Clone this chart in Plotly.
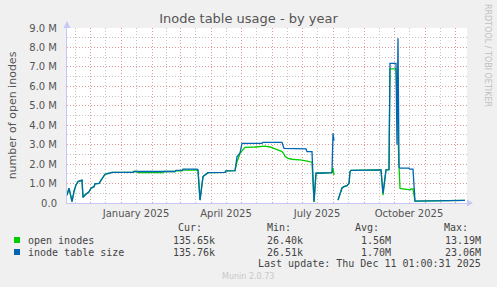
import plotly.graph_objects as go

# ---------------- data (values in millions) ----------------
dates = [
    "2024-11-08", "2024-11-10", "2024-11-11", "2024-11-13", "2024-11-15", "2024-11-17",
    "2024-11-19", "2024-11-22", "2024-11-23", "2024-11-24", "2024-11-26", "2024-11-30",
    "2024-12-02", "2024-12-05", "2024-12-06", "2024-12-10", "2024-12-12", "2024-12-14",
    "2024-12-16", "2024-12-20", "2024-12-23", "2025-01-13", "2025-01-14", "2025-01-17",
    "2025-01-18", "2025-02-12", "2025-02-13", "2025-02-24", "2025-02-25", "2025-03-03",
    "2025-03-04", "2025-03-18", "2025-03-19", "2025-03-21", "2025-03-24", "2025-03-26",
    "2025-03-29", "2025-04-15", "2025-04-16", "2025-04-25", "2025-04-27", "2025-04-30",
    "2025-05-02", "2025-05-03", "2025-05-05", "2025-05-15", "2025-05-22", "2025-05-23",
    "2025-05-25", "2025-05-30", "2025-06-06", "2025-06-11", "2025-06-13", "2025-06-14",
    "2025-06-17", "2025-06-21", "2025-06-28", "2025-06-29", "2025-07-05", "2025-07-06",
    "2025-07-11", "2025-07-13", "2025-07-15", "2025-07-31", "2025-08-01", "2025-08-02",
    "2025-08-03", "2025-08-06", "2025-08-10", "2025-08-12", "2025-08-15", "2025-08-17",
    "2025-08-18", "2025-08-19", "2025-09-18", "2025-09-20", "2025-09-22", "2025-09-23",
    "2025-09-26", "2025-09-27", "2025-10-03", "2025-10-04", "2025-10-05", "2025-10-06",
    "2025-10-07", "2025-10-16", "2025-10-17", "2025-10-18", "2025-10-20", "2025-10-22",
    "2025-11-11", "2025-11-12", "2025-12-11",
]
inode_table_size = [
    0.40, 0.76, 0.55, 0.07, 0.60, 0.93,
    1.10, 1.15, 1.17, 0.29, 0.41, 0.58,
    0.76, 0.84, 0.98, 1.01, 1.15, 1.35,
    1.48, 1.53, 1.58, 1.58, 1.62, 1.62,
    1.62, 1.62, 1.62, 1.62, 1.68, 1.68,
    1.74, 1.74, 1.70, 0.15, 1.36, 1.44,
    1.56, 1.57, 1.65, 1.66, 2.38, 2.57,
    3.07, 3.07, 3.07, 3.07, 3.07, 3.12,
    3.12, 3.12, 3.12, 3.12, 2.81, 2.81,
    2.81, 2.81, 2.81, 2.78, 2.78, 2.64,
    2.64, 0.07, 1.53, 1.56, 3.58, 3.20,
    None, 0.15, 0.77, 0.84, 0.89, 1.00,
    1.61, 1.68, 1.70, 0.50, 1.55, 1.70,
    1.72, 7.18, 7.18, 3.00, 8.47, 1.85,
    1.79, 1.79, 1.74, 1.74, 1.74, 0.10,
    0.10, 0.136, 0.136,
]
open_inodes = [
    0.40, 0.76, 0.55, 0.07, 0.60, 0.93,
    1.10, 1.15, 1.17, 0.29, 0.41, 0.58,
    0.76, 0.84, 0.98, 1.01, 1.15, 1.35,
    1.48, 1.53, 1.58, 1.58, 1.62, 1.62,
    1.56, 1.56, 1.62, 1.62, 1.65, 1.65,
    1.69, 1.69, 1.68, 0.15, 1.36, 1.44,
    1.56, 1.57, 1.65, 1.66, 2.12, 2.55,
    2.70, 2.76, 2.86, 2.88, 2.91, 2.91,
    2.92, 2.88, 2.76, 2.64, 2.52, 2.40,
    2.30, 2.25, 2.22, 2.22, 2.17, 2.16,
    2.10, 0.05, 1.53, 1.56, 1.80, 1.44,
    None, 0.15, 0.77, 0.84, 0.89, 1.00,
    1.61, 1.68, 1.70, 0.40, 1.55, 1.70,
    1.72, 6.90, 6.90, 5.00, 3.50, 1.90,
    0.75, 0.68, 0.68, 0.72, 0.72, 0.10,
    0.10, 0.136, 0.136,
]

series_names = ["open inodes", "inode table size"]
series_colors = ["#00cc00", "#0066b3"]
stat_headers = ["Cur:", "Min:", "Avg:", "Max:"]
stats = [
    ["135.65k", "26.40k", "1.56M", "13.19M"],
    ["135.76k", "26.51k", "1.70M", "23.06M"],
]

y_ticks = [0, 1, 2, 3, 4, 5, 6, 7, 8, 9]
y_ticktext = ["0.0", "1.0 M", "2.0 M", "3.0 M", "4.0 M", "5.0 M", "6.0 M", "7.0 M", "8.0 M", "9.0 M"]
y_minor = [0.5, 1.5, 2.5, 3.5, 4.5, 5.5, 6.5, 7.5, 8.5]

month_starts = ["2024-12-01", "2025-01-01", "2025-02-01", "2025-03-01", "2025-04-01",
                "2025-05-01", "2025-06-01", "2025-07-01", "2025-08-01", "2025-09-01",
                "2025-10-01", "2025-11-01", "2025-12-01"]
mid_months = ["2024-11-16", "2024-12-16", "2025-01-16", "2025-02-15", "2025-03-16",
              "2025-04-16", "2025-05-16", "2025-06-16", "2025-07-16", "2025-08-16",
              "2025-09-16", "2025-10-16", "2025-11-16"]
x_label_pos = ["2025-01-16", "2025-04-16", "2025-07-16", "2025-10-16"]
x_label_text = ["January 2025", "April 2025", "July 2025", "October 2025"]
x_range = ["2024-11-08", "2025-12-13"]

# ---------------- figure ----------------
W, H = 497, 287
L, R, T, B = 67, 30, 28, 84
PW, PH = W - L - R, H - T - B

def px(x):
    return (x - L) / PW

def py(y):
    return (H - B - y) / PH

fig = go.Figure()
fig.add_trace(go.Scatter(x=dates, y=open_inodes, mode="lines",
                         line=dict(color=series_colors[0], width=1.3),
                         connectgaps=False, hoverinfo="skip", showlegend=False))
fig.add_trace(go.Scatter(x=dates, y=inode_table_size, mode="lines",
                         line=dict(color=series_colors[1], width=1.3),
                         connectgaps=False, hoverinfo="skip", showlegend=False))
# invisible trace to carry the label axis
fig.add_trace(go.Scatter(x=[dates[0]], y=[0], xaxis="x2", mode="markers",
                         marker=dict(opacity=0), hoverinfo="skip", showlegend=False))

tickfont = dict(family="DejaVu Sans", size=10, color="#555555")
RED = "#e29a9a"
GRAY = "#c4c4c4"
DOTS = "1px,2px"

fig.update_layout(
    width=W, height=H,
    margin=dict(l=L, r=R, t=T, b=B, pad=0),
    paper_bgcolor="#f0f0f0",
    plot_bgcolor="#ffffff",
    title=dict(text="Inode table usage - by year", x=(248.5) / W, xanchor="center",
               y=1 - 18 / H, yanchor="middle",
               font=dict(family="DejaVu Sans", size=13, color="#555555")),
    xaxis=dict(type="date", range=x_range, tickmode="array", tickvals=month_starts,
               ticktext=[""] * len(month_starts), showgrid=True,
               gridcolor=RED, griddash=DOTS, gridwidth=1,
               minor=dict(tickmode="array", tickvals=mid_months, showgrid=True,
                          gridcolor=GRAY, griddash=DOTS, gridwidth=1),
               showline=True, linecolor="#c8c8f4", linewidth=1,
               zeroline=False, ticks="", fixedrange=True),
    xaxis2=dict(type="date", range=x_range, overlaying="x", anchor="y", side="bottom",
                tickmode="array", tickvals=x_label_pos, ticktext=x_label_text,
                showgrid=False, showline=False, zeroline=False, ticks="",
                tickfont=tickfont, ticklabelstandoff=3),
    yaxis=dict(range=[0, 9], tickmode="array", tickvals=y_ticks, ticktext=y_ticktext,
               showgrid=True, gridcolor=RED, griddash=DOTS, gridwidth=1,
               minor=dict(tickmode="array", tickvals=y_minor, showgrid=True,
                          gridcolor=GRAY, griddash=DOTS, gridwidth=1),
               showline=True, linecolor="#c8c8f4", linewidth=1,
               zeroline=False, ticks="", tickfont=tickfont, ticklabelstandoff=7,
               title=dict(text="number of open inodes", standoff=10,
                          font=dict(family="DejaVu Sans", size=11, color="#555555"))),
)

# axis arrows
fig.add_shape(type="path", xref="paper", yref="paper",
              path=f"M {px(467)} {py(199.5)} L {px(473)} {py(203)} L {px(467)} {py(206.5)} Z",
              fillcolor="#c8c8f4", line=dict(width=0))
fig.add_shape(type="path", xref="paper", yref="paper",
              path=f"M {px(63.5)} {py(28)} L {px(67)} {py(21)} L {px(70.5)} {py(28)} Z",
              fillcolor="#c8c8f4", line=dict(width=0))

mono = dict(family="DejaVu Sans Mono", size=10, color="#444444")

def ann(text, x, y, xanchor="left", font=mono, **kw):
    fig.add_annotation(text=text, xref="paper", yref="paper", x=px(x), y=py(y),
                       xanchor=xanchor, yanchor="middle", showarrow=False, font=font, **kw)

# legend / stats
header_right = [204, 293, 381, 470]
for h, xr in zip(stat_headers, header_right):
    ann(h, xr, 227, xanchor="right")
row_y = [240, 252]
for name, col, vals, yy in zip(series_names, series_colors, stats, row_y):
    fig.add_shape(type="rect", xref="paper", yref="paper",
                  x0=px(14), x1=px(20), y0=py(yy - 3), y1=py(yy + 3),
                  fillcolor=col, line=dict(width=0))
    ann(name, 26, yy)
    for v, xr in zip(vals, [217, 305, 393, 483]):
        ann(v, xr, yy, xanchor="right")
ann("Last update: Thu Dec 11 01:00:31 2025", 483, 263, xanchor="right")
ann("Munin 2.0.73", 248, 276, xanchor="center",
    font=dict(family="DejaVu Sans", size=8, color="#c8c8c8"))
ann("RRDTOOL / TOBI OETIKER", 487, 55, xanchor="center", textangle=90,
    font=dict(family="DejaVu Sans", size=8, color="#c0c0c0"))

fig.write_html("out.html", config=dict(displayModeBar=False, staticPlot=True))
